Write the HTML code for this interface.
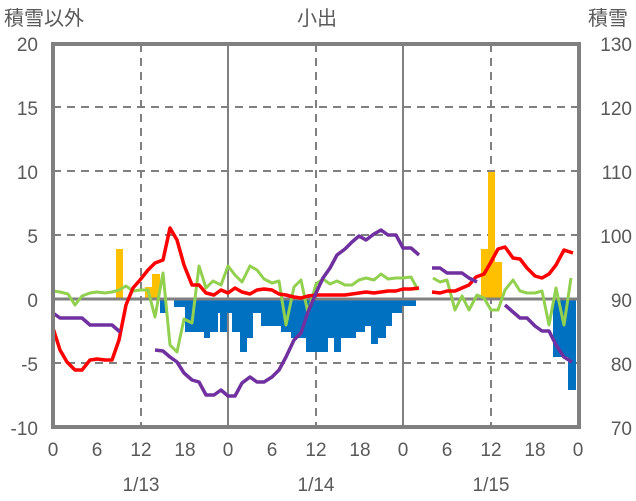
<!DOCTYPE html><html><head><style>body{margin:0;background:#fff}svg{display:block}text{font-family:"Liberation Sans","Noto Sans CJK JP",sans-serif;fill:#595959;font-size:19px}</style></head><body>
<svg width="636" height="501" viewBox="0 0 636 501">
<g stroke="#808080" stroke-width="2" stroke-dasharray="8,6">
<line x1="53" y1="107" x2="579" y2="107"/><line x1="53" y1="171" x2="579" y2="171"/><line x1="53" y1="235" x2="579" y2="235"/><line x1="53" y1="363" x2="579" y2="363"/>
<line x1="141" y1="44" x2="141" y2="427"/><line x1="316" y1="44" x2="316" y2="427"/><line x1="491" y1="44" x2="491" y2="427"/>
</g>
<g stroke="#808080" stroke-width="2"><line x1="228" y1="44" x2="228" y2="427"/><line x1="403" y1="44" x2="403" y2="427"/></g>
<g fill="#FFC000">
<rect x="116" y="249" width="7" height="50"/><rect x="145" y="287" width="7" height="12"/><rect x="152" y="274" width="8" height="25"/>
<rect x="481" y="249" width="7" height="50"/><rect x="488" y="172" width="7" height="127"/><rect x="495" y="262" width="7" height="37"/>
</g>
<g fill="#0070C0">
<rect x="160" y="299" width="6" height="14"/><rect x="174" y="299" width="11" height="8"/><rect x="185" y="299" width="19" height="33"/><rect x="204" y="299" width="6" height="39"/><rect x="210" y="299" width="8" height="33"/><rect x="218" y="299" width="2" height="14"/><rect x="220" y="299" width="7" height="33"/><rect x="227" y="299" width="5" height="14"/><rect x="232" y="299" width="8" height="33"/><rect x="240" y="299" width="7" height="53"/><rect x="247" y="299" width="6" height="39"/><rect x="253" y="299" width="8" height="14"/><rect x="261" y="299" width="20" height="27"/><rect x="281" y="299" width="10" height="33"/><rect x="291" y="299" width="15" height="39"/><rect x="306" y="299" width="22" height="53"/><rect x="328" y="299" width="6" height="39"/><rect x="334" y="299" width="7" height="53"/><rect x="341" y="299" width="15" height="39"/><rect x="356" y="299" width="9" height="33"/><rect x="365" y="299" width="6" height="27"/><rect x="371" y="299" width="7" height="45"/><rect x="378" y="299" width="8" height="39"/><rect x="386" y="299" width="6" height="27"/><rect x="392" y="299" width="10" height="14"/><rect x="402" y="299" width="14" height="7"/>
<rect x="553" y="299" width="15" height="58"/><rect x="568" y="299" width="8" height="91"/>
</g>
<line x1="53" y1="299" x2="579" y2="299" stroke="#808080" stroke-width="3"/>
<g fill="none" stroke-width="3.5" stroke-linejoin="round">
<polyline stroke="#92D050" stroke-width="3" points="53,291 60,292 68,294 75,305 82,296 90,293 97,292 105,293 112,292 119,290 126,286 133,291 140,290 148,290 155,317 163,273 170,345 177,352 184,319 192,323 199,266 206,288 213,281 221,285 228,266 235,275 242,282 250,266 257,270 264,279 272,283 279,281 286,325 294,287 301,280 308,313 316,284 323,279 330,284 337,281 345,285 352,285 359,280 366,278 374,280 381,274 388,279 396,278 403,278 411,277 418,290"/>
<polyline stroke="#92D050" stroke-width="3" points="433,278 440,282 447,280 455,310 462,296 469,310 477,295 484,298 491,310 498,310 505,290 513,280 520,291 527,293 535,293 542,291 549,325 556,288 564,325 571,278"/>
<polyline stroke="#FF0000" points="53,328 60,350 67,362 75,370 82,370 90,360 97,359 105,360 112,360 119,340 126,305 133,288 140,280 148,270 155,263 163,260 170,228 177,240 184,265 192,285 199,285 206,293 214,295 221,290 228,293 235,288 242,292 250,294 257,290 264,289 272,290 279,294 286,295 294,297 301,298 308,296 316,295 323,295 330,295 337,295 345,295 352,294 359,293 366,292 374,293 381,292 388,291 396,291 403,289 411,289 419,288"/>
<polyline stroke="#FF0000" points="432,292 440,293 447,291 455,291 462,288 469,285 476,277 484,274 491,262 498,249 505,247 513,258 520,259 527,268 535,276 542,278 549,274 556,265 564,250 573,253"/>
<g stroke="#7030A0">
<polyline points="53,313 60,318 82,318 90,325 112,325 120,332"/>
<polyline points="155,350 163,351 170,357 177,362 184,373 192,380 199,382 206,395 214,395 221,390 228,396 235,396 242,383 250,377 257,382 264,382 272,377 279,370 286,357 294,340 301,333 308,312 316,293 323,278 330,268 337,255 345,249 352,242 359,236 366,240 374,234 381,230 388,235 396,235 403,248 411,248 419,255"/>
<polyline points="432,268 440,268 447,273 462,273 469,278 477,282"/>
<polyline points="505,305 513,312 520,318 527,318 535,326 542,331 549,331 556,345 564,357 572,362"/>
</g></g>
<rect x="53" y="44" width="526" height="383" fill="none" stroke="#808080" stroke-width="4"/>
<g text-anchor="end"><text x="38" y="51">20</text><text x="38" y="115">15</text><text x="38" y="179">10</text><text x="38" y="243">5</text><text x="38" y="307">0</text><text x="38" y="371">-5</text><text x="38" y="435">-10</text></g>
<g text-anchor="end"><text x="632" y="51">130</text><text x="632" y="115">120</text><text x="632" y="179">110</text><text x="632" y="243">100</text><text x="632" y="307">90</text><text x="632" y="371">80</text><text x="632" y="435">70</text></g>
<g text-anchor="middle"><text x="53" y="456">0</text><text x="97" y="456">6</text><text x="141" y="456">12</text><text x="185" y="456">18</text><text x="228" y="456">0</text><text x="272" y="456">6</text><text x="316" y="456">12</text><text x="360" y="456">18</text><text x="403" y="456">0</text><text x="447" y="456">6</text><text x="491" y="456">12</text><text x="535" y="456">18</text><text x="578" y="456">0</text>
<text x="141" y="491">1/13</text><text x="316" y="491">1/14</text><text x="491" y="491">1/15</text>
<text x="317" y="25" style="font-size:20px">小出</text></g>
<text x="4" y="25" style="font-size:20px">積雪以外</text><text x="588" y="25" style="font-size:20px">積雪</text>
</svg></body></html>
